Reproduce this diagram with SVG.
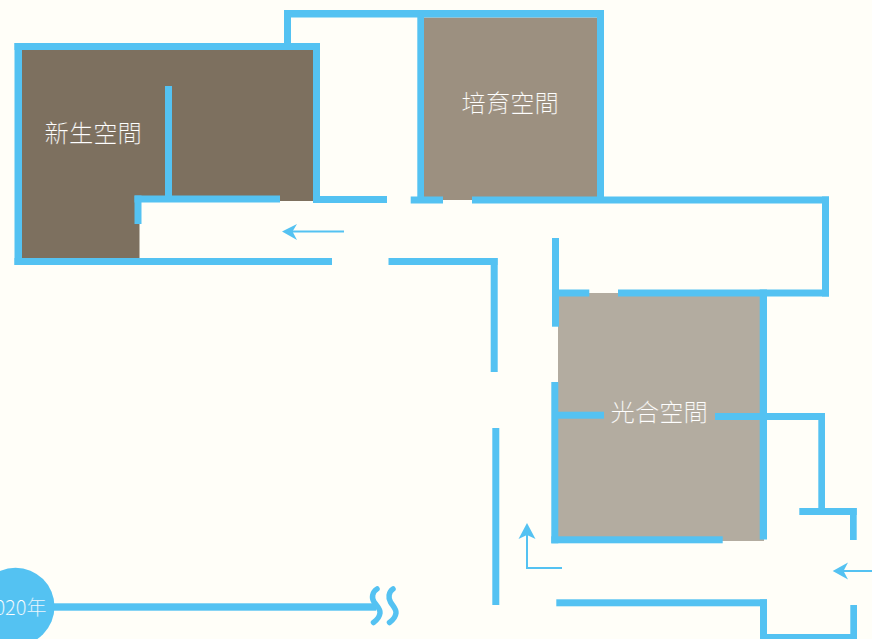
<svg xmlns="http://www.w3.org/2000/svg" width="872" height="639" viewBox="0 0 872 639">
<style>
.w{fill:#54c2f2}
.l{fill:none;stroke:#54c2f2;stroke-width:2}
.h{fill:#54c2f2}
.t{font-family:"Noto Sans CJK TC","Noto Sans CJK SC",sans-serif;font-weight:300;font-size:24.300px;fill:#fff;stroke-width:.2;text-anchor:middle}
.s{fill:none;stroke:#54c2f2;stroke-width:5.500;stroke-linecap:round}
</style>
<rect width="872" height="639" fill="#fffef8"/>
<g id="room-new">
<path d="M22 50H313V201H139.500V258H22Z" fill="#7d705f"/>
<text class="t" x="93.200" y="142" stroke="#7d705f">新生空間</text>
</g>
<g id="room-grow">
<rect x="424" y="17.500" width="173" height="182.500" fill="#9c9080"/>
<text class="t" x="510.200" y="111.500" stroke="#9c9080">培育空間</text>
</g>
<g id="room-light">
<rect x="558" y="293" width="206" height="248" fill="#b3aca0"/>
<text class="t" x="659.200" y="421" stroke="#b3aca0">光合空間</text>
</g>
<g id="connectors">
<g id="walls" class="w">
<rect x="14.500" y="43" width="305.500" height="7"/>
<rect x="14.500" y="43" width="7.500" height="222"/>
<rect x="14.500" y="258" width="317.500" height="7"/>
<rect x="313" y="43" width="7" height="160"/>
<rect x="313" y="196" width="74" height="7"/>
<rect x="284" y="10" width="7" height="33"/>
<rect x="284" y="10" width="320" height="7.500"/>
<rect x="165" y="86" width="7" height="110"/>
<rect x="134.500" y="195.500" width="145.500" height="7"/>
<rect x="134.500" y="195.500" width="7" height="28.500"/>
<rect x="388.500" y="258" width="109" height="7"/>
<rect x="490.700" y="258" width="7" height="114"/>
<rect x="492.300" y="428" width="7" height="177"/>
<rect x="417.300" y="10" width="6.700" height="193"/>
<rect x="597" y="10" width="7" height="193"/>
<rect x="410.700" y="196.500" width="32.300" height="7"/>
<rect x="472" y="196.500" width="357" height="7"/>
<rect x="822" y="196.500" width="7" height="100"/>
<rect x="618" y="289.500" width="211" height="7"/>
<rect x="552" y="289.500" width="37.300" height="7"/>
<rect x="552" y="238" width="7" height="88.700"/>
<rect x="551.300" y="382" width="7" height="161.300"/>
<rect x="551.300" y="536.300" width="171.400" height="7"/>
<rect x="759.700" y="289.500" width="7.300" height="250"/>
<rect x="558" y="411.700" width="46" height="7"/>
<rect x="715" y="413" width="110" height="7"/>
<rect x="818.300" y="413" width="6.700" height="100"/>
<rect x="799.300" y="508" width="57.400" height="7"/>
<rect x="850" y="508" width="6.700" height="32"/>
<rect x="556.300" y="599.300" width="210.700" height="7"/>
<rect x="760" y="599.300" width="7" height="39.700"/>
<rect x="760" y="634" width="97" height="5"/>
<rect x="850.300" y="605" width="6.700" height="34"/>
</g>
<g id="arrows">
<path class="l" d="M344 231.500H290"/>
<path class="h" d="M282 231.500L297 224L292.500 231.500L297 240Z"/>
<path class="l" d="M562 568H527V534"/>
<path class="h" d="M527 523L535.500 539L527 535L518.500 539Z"/>
<path class="l" d="M872 571H842"/>
<path class="h" d="M832.700 571L848 562.500L843.500 571L848 579.500Z"/>
</g>
<g id="timeline">
<rect x="50" y="603.300" width="326" height="7.400" class="w"/>
<path class="s" d="M377 589C372 592 371.500 598 374 602C377 606 380.500 609 380 613C379.500 617 377 620 373.500 622.500"/>
<path class="s" d="M393 589C388.500 592 388 598 390.500 602C393 606 396.500 609 396 613C395.500 617 393 620 389.500 622.500"/>
</g>
</g>
<g id="year">
<circle cx="15.500" cy="606.700" r="39" fill="#54c2f2"/>
<text class="t" x="46.500" y="614.500" style="font-size:20px;text-anchor:end" stroke="#54c2f2">2020年</text>
</g>
</svg>
